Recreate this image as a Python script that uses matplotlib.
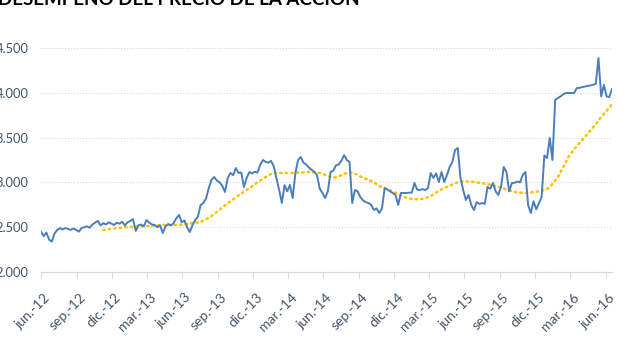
import matplotlib
matplotlib.use('Agg')
import matplotlib.pyplot as plt
import matplotlib.transforms as mtransforms
import numpy as np
import pandas as pd

plt.rcParams['font.family'] = ['Lato', 'DejaVu Sans']

titulo = 'DESEMPEÑO DEL PRECIO DE LA ACCIÓN'

# precio semanal de la accion (desde 1-jun-2012)
inicio_precio = '2012-06-01'
precio = [
    2450, 2400, 2440, 2360, 2340, 2430, 2470, 2490, 2475, 2490,
    2480, 2470, 2485, 2470, 2450, 2490, 2500, 2510, 2495, 2530,
    2550, 2570, 2520, 2545, 2530, 2555, 2540, 2525, 2550, 2540,
    2560, 2520, 2555, 2570, 2590, 2460, 2520, 2530, 2510, 2580,
    2550, 2530, 2525, 2500, 2520, 2435, 2510, 2535, 2520, 2545,
    2600, 2636, 2555, 2575, 2500, 2446, 2525, 2580, 2620, 2748,
    2770, 2820, 2937, 3030, 3060, 3020, 3000, 2960, 2893, 3050,
    3105, 3080, 3160, 3105, 3110, 2949, 3050, 3116, 3100, 3120,
    3110, 3194, 3250, 3230, 3220, 3240, 3180, 3050, 2915, 2770,
    2970, 2900, 2971, 2826, 3105, 3250, 3283, 3220, 3200, 3165,
    3140, 3120, 3080, 2930, 2882, 2826, 2900, 3116, 3130, 3190,
    3200, 3240, 3305, 3250, 3227, 2770, 2915, 2900, 2837, 2800,
    2780, 2770, 2750, 2692, 2710, 2658, 2710, 2937, 2920, 2900,
    2880, 2860, 2748, 2882, 2882, 2882, 2885, 2885, 2993, 2920,
    2915, 2925, 2915, 2937, 3105, 3050, 3100, 3005, 3116, 3005,
    3080, 3172, 3227, 3361, 3384, 3050, 2915, 2804, 2860, 2748,
    2692, 2780, 2760, 2770, 2760, 2949, 2930, 2993, 2900, 2860,
    2950, 3172, 3116, 2900, 2993, 2995, 3010, 3000, 3083, 3116,
    2748, 2658, 2790, 2700, 2770, 2837, 3300, 3272, 3495, 3250,
    3920, 3942, 3960, 3985, 3998, 3998, 3998, 3998, 4053, 4055,
    4064, 4070, 4076, 4082, 4090, 4098, 4388, 3960, 4087, 3960,
    3953, 4042,
]

# promedio movil (cada dos semanas)
inicio_media = '2012-11-09'
media = [
    2470, 2478, 2486, 2493, 2499, 2502, 2506, 2510, 2513, 2517,
    2521, 2525, 2525, 2525, 2525, 2532, 2540, 2550, 2558, 2590,
    2625, 2670, 2720, 2765, 2810, 2855, 2895, 2935, 2980, 3020,
    3060, 3095, 3105, 3105, 3105, 3105, 3110, 3112, 3116, 3112,
    3105, 3085, 3060, 3055, 3080, 3105, 3110, 3085, 3050, 3030,
    3000, 2960, 2937, 2910, 2885, 2850, 2830, 2815, 2812, 2815,
    2835, 2865, 2905, 2935, 2965, 2990, 3010, 3012, 3008, 3000,
    2990, 2980, 2968, 2950, 2930, 2912, 2895, 2885, 2882, 2888,
    2895, 2905, 2925, 2980, 3060, 3170, 3290, 3370, 3440, 3510,
    3580, 3650, 3730, 3800, 3870,
]

etiquetas_x = ['jun.-12', 'sep.-12', 'dic.-12', 'mar.-13', 'jun.-13', 'sep.-13',
               'dic.-13', 'mar.-14', 'jun.-14', 'sep.-14', 'dic.-14', 'mar.-15',
               'jun.-15', 'sep.-15', 'dic.-15', 'mar.-16', 'jun.-16']
valores_y = [2000, 2500, 3000, 3500, 4000, 4500]

fechas_precio = pd.date_range(inicio_precio, periods=len(precio), freq='7D')
fechas_media = pd.date_range(inicio_media, periods=len(media), freq='14D')
fechas_ticks = pd.date_range('2012-06-01', periods=len(etiquetas_x), freq='3MS')

fig = plt.figure(figsize=(6.34, 3.52), dpi=100)
ax = fig.add_axes([41/634, 1 - 272/352, 571/634, 224/352])

ax.plot(fechas_precio, precio, color='#4A7EBB', lw=1.4, zorder=3)
ax.plot(fechas_media, media, color='#FFC000', lw=1.8, ls=(0, (0.6, 1.6)),
        dash_capstyle='round', zorder=2)

ax.set_xlim(pd.Timestamp('2012-06-01'), pd.Timestamp('2016-06-17'))
ax.set_ylim(2000, 4500)

ax.set_yticks(valores_y)
ax.set_yticklabels([f'{v:,.0f}'.replace(',', '.') for v in valores_y])
ax.set_xticks(fechas_ticks)
ax.set_xticklabels(etiquetas_x, rotation=45, ha='right', rotation_mode='anchor')

ax.yaxis.grid(True, color='#D9D9D9', ls=':', lw=0.8)
for s in ['top', 'right', 'left']:
    ax.spines[s].set_visible(False)
ax.spines['bottom'].set_color('#D9D9D9')
ax.tick_params(axis='y', length=0, pad=9, labelsize=9.3, labelcolor='#44546A')
ax.tick_params(axis='x', length=4, color='#D9D9D9', pad=7, labelsize=10,
               labelcolor='#44546A')

desplaza = mtransforms.ScaledTranslation(3/100, -4/100, fig.dpi_scale_trans)
for lab in ax.get_xticklabels():
    lab.set_transform(lab.get_transform() + desplaza)

fig.text(-0.003, 1 - 5/352, titulo, fontsize=13.5, fontweight='bold',
         color='black', va='baseline', ha='left')

fig.savefig('out.png', dpi=100)
